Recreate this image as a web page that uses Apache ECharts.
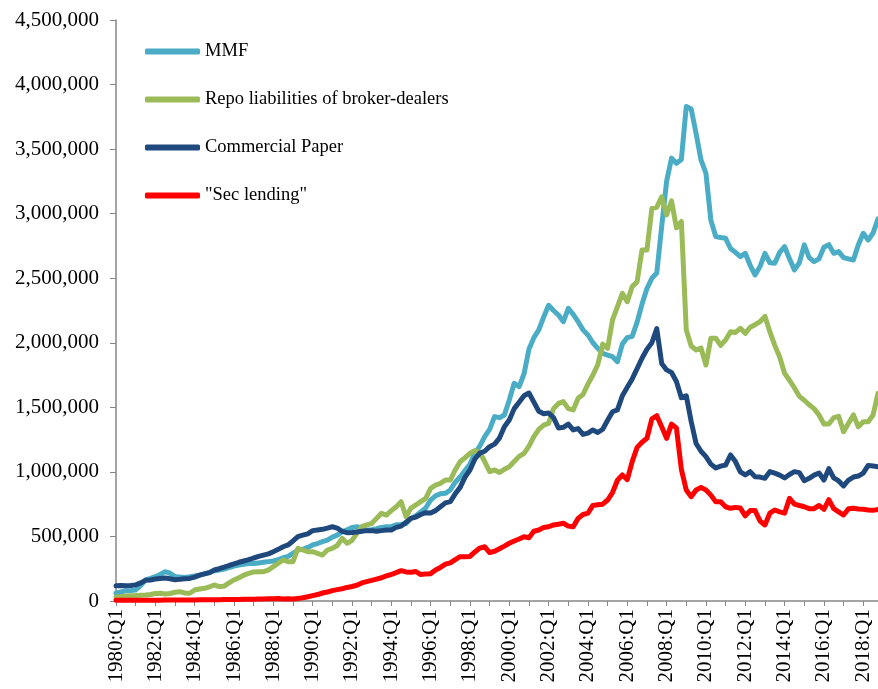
<!DOCTYPE html>
<html>
<head>
<meta charset="utf-8">
<script src="https://cdn.jsdelivr.net/npm/echarts@6/dist/echarts.min.js"></script>
<style>
  html, body { margin: 0; padding: 0; background: #fff; }
  #chart { width: 878px; height: 689px; }
</style>
</head>
<body>
<div id="chart"></div>
<script>
// quarters 1980:Q1 .. 2018:Q4
var firstYear = 1980;
var lastYear = 2018;
var quarters = [];
for (var y = firstYear; y <= lastYear; y++) {
  for (var q = 1; q <= 4; q++) quarters.push(y + ':Q' + q);
}

var yTicks = [0, 500000, 1000000, 1500000, 2000000, 2500000, 3000000, 3500000, 4000000, 4500000];

// one row per year, Q1..Q4
var mmf = [
  60000, 70000, 80000, 82000,
  85000, 120000, 163000, 175000,
  188000, 205000, 227000, 215000,
  190000, 185000, 183000, 188000,
  194000, 200000, 210000, 220000,
  235000, 240000, 248000, 258000,
  270000, 278000, 285000, 290000,
  290000, 295000, 300000, 305000,
  310000, 320000, 335000, 345000,
  370000, 395000, 400000, 415000,
  434000, 445000, 460000, 472000,
  495000, 510000, 537000, 550000,
  570000, 576000, 565000, 550000,
  552000, 560000, 570000, 576000,
  576000, 590000, 592000, 600000,
  640000, 660000, 690000, 720000,
  782000, 815000, 830000, 834000,
  860000, 920000, 960000, 1010000,
  1060000, 1144000, 1200000, 1273000,
  1330000, 1428000, 1420000, 1440000,
  1557000, 1686000, 1660000, 1760000,
  1950000, 2040000, 2100000, 2200000,
  2290000, 2250000, 2215000, 2163000,
  2267000, 2220000, 2163000, 2100000,
  2060000, 2000000, 1957000, 1918000,
  1905000, 1892000, 1854000, 1990000,
  2040000, 2050000, 2160000, 2300000,
  2420000, 2500000, 2540000, 2900000,
  3250000, 3430000, 3390000, 3420000,
  3830000, 3810000, 3620000, 3416000,
  3313000, 2950000, 2822000, 2815000,
  2809000, 2730000, 2700000, 2667000,
  2693000, 2600000, 2525000, 2590000,
  2693000, 2620000, 2616000, 2700000,
  2744000, 2650000, 2564000, 2620000,
  2758000, 2660000, 2628000, 2650000,
  2740000, 2760000, 2693000, 2706000,
  2660000, 2650000, 2641000, 2760000,
  2848000, 2796000, 2850000, 2960000
];

var repo = [
  33000, 35000, 38000, 40000,
  42000, 45000, 46000, 50000,
  58000, 60000, 55000, 58000,
  68000, 72000, 62000, 60000,
  85000, 93000, 98000, 110000,
  124000, 112000, 115000, 140000,
  163000, 180000, 200000, 214000,
  225000, 227000, 227000, 240000,
  266000, 292000, 318000, 304000,
  304000, 408000, 395000, 382000,
  382000, 369000, 356000, 395000,
  408000, 430000, 485000, 447000,
  470000, 524000, 576000, 589000,
  600000, 640000, 679000, 666000,
  700000, 730000, 769000, 653000,
  720000, 744000, 770000, 795000,
  873000, 898000, 911000, 937000,
  937000, 1015000, 1079000, 1110000,
  1144000, 1165000, 1150000, 1080000,
  1002000, 1015000, 995000, 1020000,
  1040000, 1080000, 1120000, 1144000,
  1200000, 1273000, 1330000, 1363000,
  1376000, 1490000, 1530000, 1544000,
  1490000, 1480000, 1570000, 1600000,
  1680000, 1750000, 1830000, 1990000,
  1957000, 2177000, 2280000, 2383000,
  2318000, 2435000, 2473000, 2719000,
  2719000, 3040000, 3050000, 3130000,
  2990000, 3100000, 2890000, 2940000,
  2100000, 1975000, 1944000, 1960000,
  1828000, 2035000, 2035000, 1980000,
  2022000, 2086000, 2080000, 2112000,
  2073000, 2120000, 2140000, 2163000,
  2205000, 2086000, 1980000, 1890000,
  1764000, 1710000, 1650000, 1585000,
  1555000, 1520000, 1490000, 1440000,
  1371000, 1371000, 1420000, 1430000,
  1311000, 1376000, 1441000, 1350000,
  1389000, 1389000, 1441000, 1609000
];

var commercialPaper = [
  118000, 120000, 118000, 120000,
  125000, 140000, 160000, 163000,
  170000, 175000, 178000, 172000,
  165000, 168000, 172000, 175000,
  185000, 200000, 210000, 220000,
  240000, 250000, 262000, 275000,
  287000, 300000, 310000, 320000,
  333000, 345000, 355000, 365000,
  382000, 400000, 420000, 434000,
  465000, 498000, 510000, 520000,
  545000, 550000, 555000, 565000,
  575000, 565000, 540000, 529000,
  530000, 535000, 540000, 545000,
  545000, 540000, 545000, 550000,
  550000, 570000, 580000, 610000,
  640000, 650000, 670000, 684000,
  682000, 700000, 730000, 760000,
  770000, 830000, 880000, 960000,
  1015000, 1100000, 1146000, 1160000,
  1195000, 1215000, 1262000, 1350000,
  1402000, 1490000, 1540000, 1590000,
  1611000, 1540000, 1470000, 1450000,
  1456000, 1420000, 1340000, 1345000,
  1370000, 1325000, 1335000, 1290000,
  1300000, 1325000, 1305000, 1330000,
  1400000, 1466000, 1480000, 1590000,
  1655000, 1720000, 1800000, 1880000,
  1950000, 2000000, 2110000, 1840000,
  1790000, 1770000, 1700000, 1575000,
  1590000, 1390000, 1220000, 1160000,
  1118000, 1060000, 1030000, 1045000,
  1053000, 1131000, 1080000, 1000000,
  976000, 1002000, 963000, 960000,
  950000, 1002000, 990000, 975000,
  953000, 980000, 1002000, 994000,
  932000, 950000, 975000, 991000,
  937000, 1025000, 953000, 930000,
  891000, 937000, 960000, 968000,
  991000, 1050000, 1045000, 1040000
];

var secLending = [
  5000, 5000, 5000, 5000,
  5000, 5000, 6000, 6000,
  6000, 6000, 7000, 7000,
  7000, 8000, 8000, 8000,
  8000, 9000, 9000, 10000,
  10000, 10000, 11000, 11000,
  12000, 12000, 13000, 14000,
  14000, 15000, 16000, 17000,
  18000, 20000, 15000, 18000,
  15000, 20000, 25000, 33000,
  42000, 50000, 62000, 70000,
  80000, 88000, 95000, 105000,
  112000, 122000, 140000, 150000,
  160000, 170000, 180000, 195000,
  205000, 220000, 235000, 225000,
  222000, 228000, 205000, 210000,
  212000, 240000, 260000, 285000,
  295000, 320000, 343000, 343000,
  345000, 380000, 410000, 420000,
  375000, 385000, 405000, 425000,
  447000, 465000, 480000, 498000,
  490000, 540000, 550000, 570000,
  575000, 589000, 595000, 602000,
  580000, 575000, 640000, 670000,
  680000, 740000, 745000, 750000,
  782000, 840000, 935000, 976000,
  940000, 1080000, 1190000, 1230000,
  1260000, 1410000, 1435000, 1350000,
  1260000, 1370000, 1340000, 1020000,
  860000, 808000, 860000, 880000,
  860000, 820000, 769000, 769000,
  730000, 718000, 725000, 720000,
  660000, 700000, 700000, 620000,
  589000, 680000, 705000, 690000,
  680000, 795000, 750000, 740000,
  730000, 715000, 715000, 740000,
  710000, 785000, 715000, 690000,
  666000, 715000, 718000, 712000,
  710000, 705000, 702000, 708000
];

var seriesNames = ['MMF', 'Repo liabilities of broker-dealers', 'Commercial Paper', '"Sec lending"'];
var seriesColors = ['#4BACC6', '#9BBB59', '#1F497D', '#FF0000'];
var seriesData = [mmf, repo, commercialPaper, secLending];

var font = '"Liberation Serif", "Times New Roman", serif';

function fmt(v) {
  return String(v).replace(/\B(?=(\d{3})+(?!\d))/g, ',');
}

var myChart = echarts.init(document.getElementById('chart'));
myChart.setOption({
  animation: false,
  backgroundColor: '#fff',
  grid: { left: 116, right: 0, top: 20, bottom: 88 },
  legend: {
    orient: 'vertical',
    left: 140,
    top: 36,
    padding: 5,
    itemWidth: 55,
    itemHeight: 6,
    itemGap: 27,
    icon: 'roundRect',
    textStyle: { fontFamily: font, fontSize: 18.5, color: '#000', lineHeight: 21 },
    data: seriesNames
  },
  xAxis: {
    type: 'category',
    boundaryGap: false,
    data: quarters,
    axisLine: { lineStyle: { color: '#868686', width: 1.5 } },
    axisTick: { interval: 3, length: 5, lineStyle: { color: '#868686' } },
    axisLabel: {
      interval: 7,
      rotate: 90,
      margin: 8,
      fontFamily: font,
      fontSize: 21,
      color: '#000'
    },
    splitLine: { show: false }
  },
  yAxis: {
    type: 'value',
    min: yTicks[0],
    max: yTicks[yTicks.length - 1],
    interval: yTicks[1] - yTicks[0],
    axisLine: { show: true, lineStyle: { color: '#868686', width: 1.5 } },
    axisTick: { show: true, length: 6, lineStyle: { color: '#868686' } },
    axisLabel: {
      margin: 17,
      fontFamily: font,
      fontSize: 21,
      color: '#000',
      formatter: fmt
    },
    splitLine: { show: false }
  },
  series: seriesData.map(function (d, k) {
    return {
      name: seriesNames[k],
      type: 'line',
      data: d,
      symbol: 'none',
      color: seriesColors[k],
      lineStyle: { width: 5, color: seriesColors[k], cap: 'round', join: 'round' }
    };
  })
});
</script>
</body>
</html>
